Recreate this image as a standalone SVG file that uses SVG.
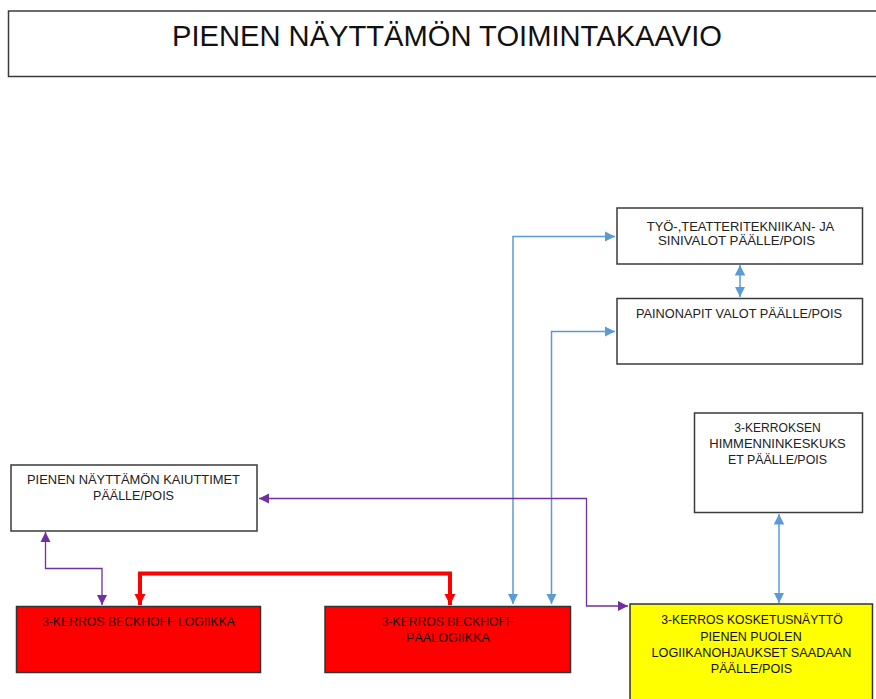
<svg xmlns="http://www.w3.org/2000/svg" width="876" height="699" viewBox="0 0 876 699">
<style>
.box{fill:#fff;stroke:#3a3a3a;stroke-width:1.5}
.red{fill:#ff0000;stroke:#333;stroke-width:1.5}
.yel{fill:#ffff00;stroke:#333;stroke-width:1.5}
text{font-family:"Liberation Sans",Arial,sans-serif;font-size:12.8px;fill:#222;text-anchor:middle}
.title{font-size:29px;fill:#111}
.blue{fill:none;stroke:#5b9bd5;stroke-width:1.5}
.purp{fill:none;stroke:#7030a0;stroke-width:1.3}
.rd{fill:none;stroke:#ff0000;stroke-width:4}
</style>
<defs>
<marker id="ab" viewBox="0 0 10 10" refX="10" refY="5" markerWidth="7" markerHeight="7" markerUnits="strokeWidth" orient="auto-start-reverse"><path d="M0,0L10,5L0,10z" fill="#5b9bd5"/></marker>
<marker id="ap" viewBox="0 0 10 10" refX="10" refY="5" markerWidth="8" markerHeight="8" markerUnits="strokeWidth" orient="auto-start-reverse"><path d="M0,0L10,5L0,10z" fill="#7030a0"/></marker>
<marker id="ar" viewBox="0 0 10 10" refX="10" refY="5" markerWidth="2.8" markerHeight="2.8" markerUnits="strokeWidth" orient="auto-start-reverse"><path d="M0,0L10,5L0,10z" fill="#ff0000"/></marker>
</defs>

<g id="title">
<rect x="8.5" y="11" width="880" height="65.5" fill="#fff" stroke="#3a3a3a" stroke-width="1.5"/>
<text class="title" x="447" y="46" textLength="550" lengthAdjust="spacingAndGlyphs">PIENEN NÄYTTÄMÖN TOIMINTAKAAVIO</text>
</g>

<g id="connectors">
<path class="blue" d="M513,604 V236.5 H615" marker-start="url(#ab)" marker-end="url(#ab)"/>
<path class="blue" d="M551.5,604 V331.5 H615" marker-start="url(#ab)" marker-end="url(#ab)"/>
<path class="blue" d="M740,265 V297" marker-start="url(#ab)" marker-end="url(#ab)"/>
<path class="blue" d="M779,514 V603" marker-start="url(#ab)" marker-end="url(#ab)"/>
<path class="purp" d="M259,498.5 H586.5 V606 H628" marker-start="url(#ap)" marker-end="url(#ap)"/>
<path class="purp" d="M45.5,532 V568.5 H102 V605" marker-start="url(#ap)" marker-end="url(#ap)"/>
<path class="rd" d="M140,605 V573.5 H450 V605" marker-start="url(#ar)" marker-end="url(#ar)"/>
</g>

<g id="n_tyo">
<rect class="box" x="617" y="208" width="245.5" height="56"/>
<text x="740.5" y="230.5" textLength="187.5" lengthAdjust="spacingAndGlyphs">TYÖ-,TEATTERITEKNIIKAN- JA</text>
<text x="736.5" y="245" textLength="157" lengthAdjust="spacingAndGlyphs">SINIVALOT PÄÄLLE/POIS</text>
</g>

<g id="n_painonapit">
<rect class="box" x="617" y="298.5" width="245.5" height="65.5"/>
<text x="739" y="318" textLength="206" lengthAdjust="spacingAndGlyphs">PAINONAPIT VALOT PÄÄLLE/POIS</text>
</g>

<g id="n_himmennin">
<rect class="box" x="694.5" y="413" width="168" height="99.5"/>
<text x="777.5" y="431.5" textLength="86.5" lengthAdjust="spacingAndGlyphs">3-KERROKSEN</text>
<text x="777.5" y="447.5" textLength="136.5" lengthAdjust="spacingAndGlyphs">HIMMENNINKESKUKS</text>
<text x="777.5" y="464" textLength="99" lengthAdjust="spacingAndGlyphs">ET PÄÄLLE/POIS</text>
</g>

<g id="n_kaiuttimet">
<rect class="box" x="11" y="465" width="246" height="66"/>
<text x="133.5" y="484" textLength="213" lengthAdjust="spacingAndGlyphs">PIENEN NÄYTTÄMÖN KAIUTTIMET</text>
<text x="133.5" y="500" textLength="81" lengthAdjust="spacingAndGlyphs">PÄÄLLE/POIS</text>
</g>

<g id="n_logiikka">
<rect class="red" x="16.5" y="606.5" width="244" height="66"/>
<text x="138.5" y="626" textLength="193" lengthAdjust="spacingAndGlyphs" style="fill:#111">3-KERROS BECKHOFF LOGIIKKA</text>
</g>

<g id="n_paalogiikka">
<rect class="red" x="325" y="606.5" width="245.5" height="66"/>
<text x="447.5" y="626" textLength="131.5" lengthAdjust="spacingAndGlyphs" style="fill:#111">3-KERROS BECKHOFF</text>
<text x="448" y="641.5" textLength="84" lengthAdjust="spacingAndGlyphs" style="fill:#111">PÄÄLOGIIKKA</text>
</g>

<g id="n_kosketusnaytto">
<rect class="yel" x="630" y="604" width="242.5" height="110"/>
<text x="752" y="624" textLength="181.5" lengthAdjust="spacingAndGlyphs" style="fill:#111">3-KERROS KOSKETUSNÄYTTÖ</text>
<text x="751" y="640.5" textLength="101.5" lengthAdjust="spacingAndGlyphs" style="fill:#111">PIENEN PUOLEN</text>
<text x="751.5" y="656.5" textLength="200" lengthAdjust="spacingAndGlyphs" style="fill:#111">LOGIIKANOHJAUKSET SAADAAN</text>
<text x="751.5" y="672.5" textLength="81.5" lengthAdjust="spacingAndGlyphs" style="fill:#111">PÄÄLLE/POIS</text>
</g>
</svg>
